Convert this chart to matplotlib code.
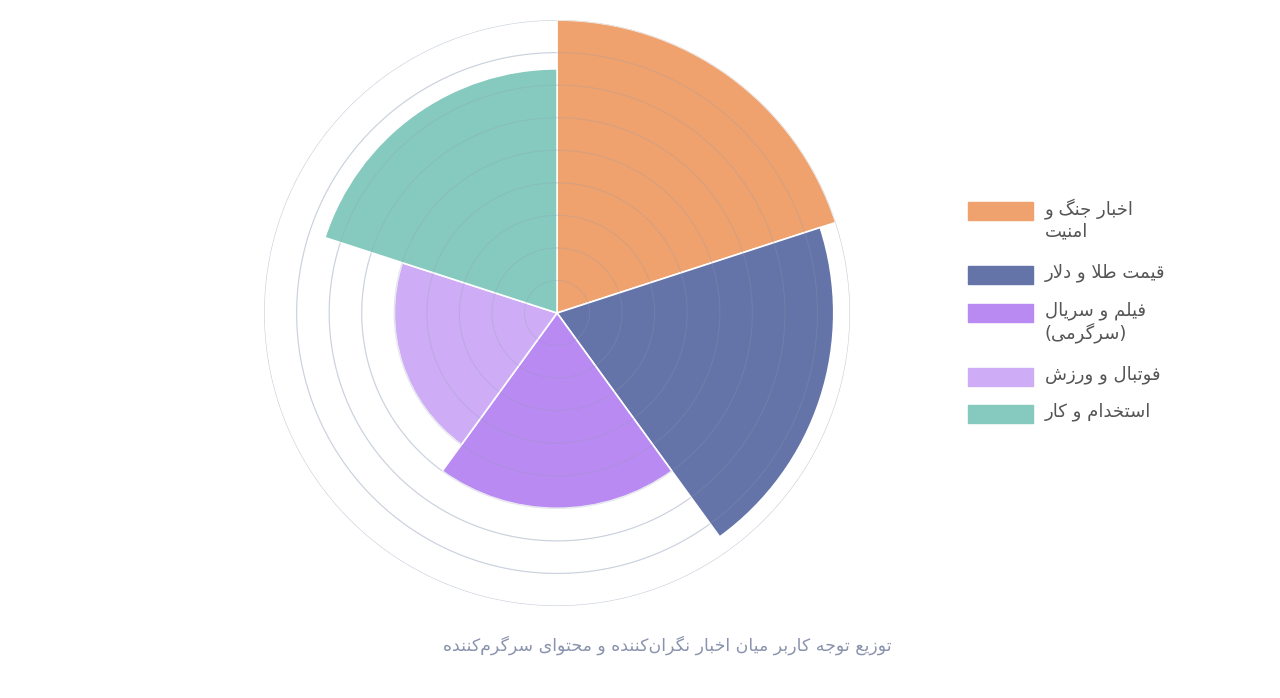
import matplotlib
matplotlib.use("Agg")
import matplotlib.pyplot as plt
import matplotlib.patches as mpatches
import numpy as np

# ── data ──────────────────────────────────────────────────────────────────────
labels = [["اخبار جنگ و", "امنیت"], ["قیمت طلا و دلار"], ["فیلم و سریال", "(سرگرمی)"],
          ["فوتبال و ورزش"], ["استخدام و کار"]]
values = [45, 42.5, 30, 25, 37.5]
colors = ["#EFA26E", "#6574A8", "#B98AF2", "#CEADF6", "#86CABF"]
title = "توزیع توجه کاربر میان اخبار نگران‌کننده و محتوای سرگرم‌کننده"
r_max, r_step = 45, 5

# ── minimal Persian shaping (matplotlib has no complex text layout) ──────────
FORMS = {  # isolated, final, initial, medial
    "ا": (0xFE8D, 0xFE8E), "د": (0xFEA9, 0xFEAA), "ر": (0xFEAD, 0xFEAE),
    "ز": (0xFEAF, 0xFEB0), "و": (0xFEED, 0xFEEE),
    "ب": (0xFE8F, 0xFE90, 0xFE91, 0xFE92), "ت": (0xFE95, 0xFE96, 0xFE97, 0xFE98),
    "ج": (0xFE9D, 0xFE9E, 0xFE9F, 0xFEA0), "ح": (0xFEA1, 0xFEA2, 0xFEA3, 0xFEA4),
    "خ": (0xFEA5, 0xFEA6, 0xFEA7, 0xFEA8), "س": (0xFEB1, 0xFEB2, 0xFEB3, 0xFEB4),
    "ش": (0xFEB5, 0xFEB6, 0xFEB7, 0xFEB8), "ط": (0xFEC1, 0xFEC2, 0xFEC3, 0xFEC4),
    "ع": (0xFEC9, 0xFECA, 0xFECB, 0xFECC), "ف": (0xFED1, 0xFED2, 0xFED3, 0xFED4),
    "ق": (0xFED5, 0xFED6, 0xFED7, 0xFED8), "ک": (0xFB8E, 0xFB8F, 0xFB90, 0xFB91),
    "گ": (0xFB92, 0xFB93, 0xFB94, 0xFB95), "ل": (0xFEDD, 0xFEDE, 0xFEDF, 0xFEE0),
    "م": (0xFEE1, 0xFEE2, 0xFEE3, 0xFEE4), "ن": (0xFEE5, 0xFEE6, 0xFEE7, 0xFEE8),
    "ه": (0xFEE9, 0xFEEA, 0xFEEB, 0xFEEC), "ی": (0xFBFC, 0xFBFD, 0xFBFE, 0xFBFF),
}


def shape(s):
    s = s.replace("لا", "\uE000")  # lam-alef placeholder
    chars = list(s)
    out = []
    for i, c in enumerate(chars):
        prev = chars[i - 1] if i > 0 else ""
        nxt = chars[i + 1] if i + 1 < len(chars) else ""
        join_prev = (prev in FORMS and len(FORMS[prev]) == 4) and (c in FORMS or c == "\uE000")
        if c == "\uE000":
            out.append(chr(0xFEFC if join_prev else 0xFEFB))
            continue
        if c not in FORMS:
            out.append({"(": ")", ")": "("}.get(c, "" if c == "\u200c" else c))
            continue
        f = FORMS[c]
        join_next = len(f) == 4 and (nxt in FORMS or nxt == "\uE000")
        if join_prev and join_next:
            out.append(chr(f[3]))
        elif join_next:
            out.append(chr(f[2]))
        elif join_prev:
            out.append(chr(f[1]))
        else:
            out.append(chr(f[0]))
    return "".join(reversed(out))


plt.rcParams["font.family"] = ["DejaVu Sans"]

fig = plt.figure(figsize=(12.8, 6.98), dpi=100)
ax = fig.add_axes([0.2063, 0.1318, 0.4578, 0.8395], projection="polar")
ax.set_theta_zero_location("N")
ax.set_theta_direction(-1)

n = len(values)
width = 2 * np.pi / n
theta = np.arange(n) * width + width / 2
ax.bar(theta, values, width=width, color=colors, edgecolor="white", linewidth=1.2, zorder=2)

# rings (drawn over the slices, as in the source)
tt = np.linspace(0, 2 * np.pi, 400)
for r in np.arange(r_step, r_max + 0.1, r_step):
    ax.plot(tt, np.full_like(tt, r), color="#8c9ab0", lw=0.8, alpha=0.25, zorder=3)
    ax.plot(tt, np.full_like(tt, r), color="#dfe4ec", lw=0.8, zorder=1)

ax.set_ylim(0, r_max)
ax.grid(False)
ax.set_xticks([])
ax.set_yticks([])
ax.spines["polar"].set_visible(False)

# legend
y_centers = [211, 275, 313, 377, 414]
for lab, col, yc in zip(labels, colors, y_centers):
    fig.patches.append(mpatches.Rectangle((968 / 1280, 1 - (yc + 9) / 698), 65 / 1280, 18 / 698,
                                          transform=fig.transFigure, color=col))
    for k, line in enumerate(lab):
        fig.text(1045 / 1280, 1 - (yc - 2 + k * 22) / 698, shape(line), fontsize=13,
                 color="#555555", ha="left", va="center")

fig.text(667 / 1280, 1 - 645 / 698, shape(title), fontsize=12.5, color="#8a93ad",
         ha="center", va="center")

fig.savefig("out.png", dpi=100)
